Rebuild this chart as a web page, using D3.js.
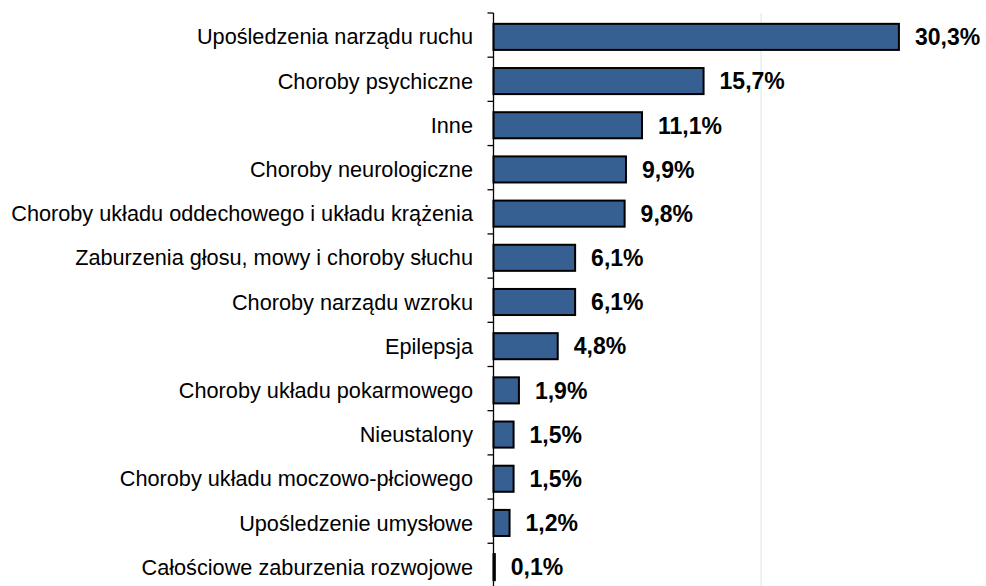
<!DOCTYPE html>
<html><head><meta charset="utf-8">
<script src="https://cdn.jsdelivr.net/npm/d3@7"></script>
<style>body{margin:0;background:#fff}svg{display:block}</style>
</head><body>
<svg id="c" width="986" height="586"></svg>
<script>
const categories = ["Upośledzenia narządu ruchu","Choroby psychiczne","Inne","Choroby neurologiczne","Choroby układu oddechowego i układu krążenia","Zaburzenia głosu, mowy i choroby słuchu","Choroby narządu wzroku","Epilepsja","Choroby układu pokarmowego","Nieustalony","Choroby układu moczowo-płciowego","Upośledzenie umysłowe","Całościowe zaburzenia rozwojowe"];
const values = [30.3,15.7,11.1,9.9,9.8,6.1,6.1,4.8,1.9,1.5,1.5,1.2,0.1];
const labels = ["30,3%","15,7%","11,1%","9,9%","9,8%","6,1%","6,1%","4,8%","1,9%","1,5%","1,5%","1,2%","0,1%"];
const gridTicks = [20];

const svg = d3.select("#c");
const x = d3.scaleLinear().domain([0,40]).range([493.5,1028.7]);
const y = d3.scaleBand().domain(categories).range([13,587]).paddingInner(0.41).paddingOuter(0.2);

svg.selectAll("line.grid").data(gridTicks).join("line").attr("class","grid")
  .attr("x1",d=>x(d)).attr("x2",d=>x(d)).attr("y1",13).attr("y2",586)
  .attr("stroke","#dde3ec").attr("stroke-width",1);

const step = y.step();
svg.selectAll("rect.bar").data(values).join("rect").attr("class","bar")
  .attr("x",x(0)).attr("y",(d,i)=>y(categories[i])+2)
  .attr("width",d=>x(d)-x(0)).attr("height",y.bandwidth())
  .attr("fill","#376092").attr("stroke","#000").attr("stroke-width",2);

// axis
const ax = svg.append("g").attr("transform",`translate(${x(0)},0)`);
ax.append("line").attr("x1",0).attr("x2",0).attr("y1",13).attr("y2",587).attr("stroke","#000").attr("stroke-width",1.3);
const bounds = d3.range(categories.length+1).map(i=>13+i*step);
ax.selectAll("line.t").data(bounds).join("line").attr("class","t")
  .attr("x1",-6).attr("x2",0).attr("y1",d=>d).attr("y2",d=>d).attr("stroke","#000").attr("stroke-width",1.3);

svg.selectAll("text.cat").data(categories).join("text").attr("class","cat")
  .attr("x",473).attr("y",d=>y(d)+2+y.bandwidth()/2).attr("dy","0.35em")
  .attr("text-anchor","end").attr("font-family","Liberation Sans, Arial, sans-serif")
  .attr("font-size",21.7).attr("fill","#000").text(d=>d);

svg.selectAll("text.val").data(values).join("text").attr("class","val")
  .attr("x",d=>x(d)+16).attr("y",(d,i)=>y(categories[i])+2+y.bandwidth()/2).attr("dy","0.36em")
  .attr("font-family","Liberation Sans, Arial, sans-serif").attr("font-weight","bold")
  .attr("font-size",23).attr("fill","#000").text((d,i)=>labels[i]);
</script>
</body></html>
